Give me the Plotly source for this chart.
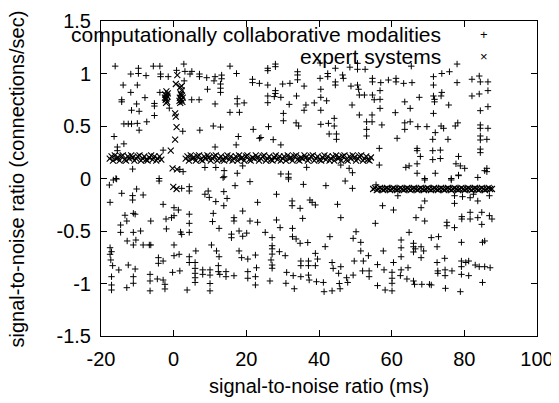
import plotly.graph_objects as go

# tick labels
x_ticks = [-20, 0, 20, 40, 60, 80, 100]
x_tick_text = ["-20", "0", "20", "40", "60", "80", "100"]
y_ticks = [-1.5, -1, -0.5, 0, 0.5, 1, 1.5]
y_tick_text = ["-1.5", "-1", "-0.5", "0", "0.5", "1", "1.5"]

# computationally collaborative modalities (+)
modalities_pts = [
    (-16.1, 1.07), (-9.7, 1.05), (-5.6, 1.07), (-3.8, 1.07), (-11.8, 0.995), (-9.7, 1.0), (-7.6, 0.98),
    (-3.6, 0.995), (-3.6, 0.97), (-1.5, 0.97), (0.8, 1.03), (2.8, 1.09), (3.1, 1.02), (4.5, 0.995),
    (5.0, 1.02), (7.1, 0.995), (7.1, 0.97), (9.1, 0.96), (11.4, 0.97), (11.1, 0.93), (13.2, 0.985),
    (13.2, 0.95), (15.5, 1.07), (17.3, 1.0), (-13.9, 0.89), (-10.0, 0.89), (-11.8, 0.82), (-7.9, 0.77),
    (-14.3, 0.75), (-14.3, 0.73), (-10.2, 0.71), (-5.3, 0.715), (-5.3, 0.69), (-3.8, 0.82), (-11.6, 0.65),
    (-9.5, 0.64), (-5.3, 0.60), (-1.2, 0.67), (4.96, 0.75), (7.0, 0.75), (9.3, 0.85), (12.9, 0.90),
    (12.9, 0.86), (12.9, 0.82), (11.4, 0.71), (17.5, 0.76), (17.5, 0.71), (19.4, 0.72), (15.5, 0.63),
    (18.1, 0.63), (-13.7, 0.52), (-12.5, 0.52), (-11.6, 0.52), (-10.0, 0.525), (-9.5, 0.46), (-7.4, 0.54),
    (2.5, 0.45), (7.2, 0.46), (10.9, 0.50), (12.9, 0.49), (17.8, 0.40), (-16.4, 0.40), (-13.7, 0.33),
    (-15.5, 0.30), (-15.5, 0.265), (11.4, 0.30), (17.2, 0.32), (-2.9, 0.27), (-11.3, 0.09), (8.6, 0.105),
    (11.6, 0.105), (13.9, 0.075), (13.9, 0.017), (17.5, 0.05), (19.0, 0.12), (-15.9, 0.0), (-4.0, 0.0),
    (1.7, 0.087), (2.6, 0.065), (2.9, 0.93),
    (25.9, 1.05), (25.9, 1.027), (28.0, 1.09), (28.0, 1.065), (21.7, 0.945), (21.7, 0.913), (23.6, 0.906),
    (25.9, 0.89), (28.0, 0.837), (28.0, 0.81), (30.0, 0.90), (32.0, 0.906), (34.1, 1.017), (34.1, 0.986),
    (34.1, 0.94), (35.9, 0.88), (25.9, 0.786), (25.9, 0.722), (27.7, 0.78), (29.5, 0.773), (31.8, 0.706),
    (33.8, 0.786), (36.4, 0.70), (35.9, 0.65), (38.7, 0.72), (40.3, 0.954), (42.4, 1.0), (42.4, 0.97),
    (44.5, 1.05), (46.5, 0.986), (46.7, 0.954), (44.5, 0.92), (44.5, 0.89), (40.5, 0.85), (40.5, 0.773),
    (42.1, 0.74), (40.5, 0.65), (48.5, 1.06), (50.6, 1.097), (50.6, 1.04), (52.7, 1.04), (48.8, 0.88),
    (50.6, 0.89), (50.9, 0.85), (51.1, 0.795), (52.5, 0.795), (54.7, 0.954), (54.7, 0.92), (57.0, 0.913),
    (54.7, 0.795), (55.2, 0.75), (56.8, 0.837), (56.8, 0.754), (56.8, 0.668), (59.1, 0.938), (49.1, 0.70),
    (30.2, 0.62), (30.2, 0.55), (33.7, 0.53), (34.4, 0.50), (26.1, 0.494), (21.9, 0.468), (23.6, 0.383),
    (24.0, 0.39), (27.4, 0.37), (29.5, 0.32), (40.5, 0.516), (42.6, 0.525), (44.2, 0.573), (44.2, 0.50),
    (42.8, 0.424), (44.8, 0.424), (44.8, 0.373), (51.1, 0.605), (54.6, 0.605), (53.1, 0.54), (54.6, 0.54),
    (53.1, 0.468), (53.1, 0.405), (57.3, 0.51), (56.6, 0.287), (56.6, 0.128), (46.0, 0.128), (48.3, 0.097),
    (49.2, 0.055), (36.6, 0.106), (29.5, 0.043), (31.6, 0.043), (31.6, 0.011), (40.3, 1.1),
    (65.4, 1.07), (78.0, 1.09), (73.8, 1.0), (75.9, 1.017), (71.5, 0.97), (61.2, 0.954), (61.2, 0.92),
    (63.3, 0.906), (65.6, 0.913), (71.5, 0.89), (78.0, 0.913), (82.1, 0.945), (84.1, 0.976), (84.4, 0.92),
    (86.5, 0.92), (86.5, 0.837), (82.1, 0.786), (84.1, 0.805), (73.8, 0.82), (73.6, 0.786), (71.5, 0.786),
    (71.8, 0.754), (71.8, 0.73), (67.6, 0.773), (63.6, 0.73), (65.1, 0.668), (61.0, 0.627), (71.5, 0.62),
    (75.7, 0.70), (84.4, 0.646), (86.5, 0.684), (63.6, 0.53), (65.1, 0.54), (63.6, 0.468), (67.2, 0.494),
    (69.7, 0.494), (73.6, 0.50), (74.3, 0.478), (77.5, 0.50), (78.2, 0.53), (84.4, 0.51), (84.4, 0.478),
    (86.5, 0.478), (72.0, 0.437), (71.3, 0.373), (75.5, 0.373), (61.5, 0.383), (84.4, 0.405), (84.4, 0.367),
    (86.2, 0.373), (67.0, 0.287), (67.0, 0.265), (67.9, 0.21), (71.3, 0.265), (73.4, 0.27), (71.3, 0.18),
    (73.4, 0.19), (78.4, 0.21), (84.4, 0.28), (84.4, 0.246), (67.0, 0.14), (63.9, 0.106), (64.8, 0.12),
    (77.7, 0.14), (78.9, 0.12), (80.1, 0.097), (86.2, 0.097), (86.2, 0.065), (85.6, 0.075), (67.0, 0.05),
    (72.0, 0.05), (78.4, 0.033), (69.1, 0.0), (76.4, 0.0), (83.7, 0.01),
    (-17.7, -0.062), (-16.6, -0.014), (-15.7, -0.005), (-4.0, -0.024), (13.6, 0.008), (2.2, -0.094),
    (4.3, -0.078), (4.3, -0.119), (-14.3, -0.141), (-11.3, -0.163), (-11.3, -0.205), (-10.2, -0.10),
    (-8.4, -0.157), (-17.5, -0.227), (-2.9, -0.246), (0.1, -0.278), (1.3, -0.30), (8.6, -0.15), (9.5, -0.119),
    (9.8, -0.18), (11.6, -0.22), (13.8, -0.125), (14.7, -0.19), (13.8, -0.259), (16.9, -0.068), (19.0, -0.31),
    (-13.4, -0.35), (-11.1, -0.332), (-10.6, -0.34), (-12.9, -0.405), (-14.6, -0.443), (-6.3, -0.405),
    (-2.1, -0.386), (-0.6, -0.373), (0.1, -0.354), (-2.0, -0.48), (4.3, -0.34), (4.3, -0.427), (10.9, -0.332),
    (10.7, -0.41), (12.5, -0.475), (16.6, -0.373), (16.6, -0.405), (18.0, -0.50), (19.0, -0.55), (15.9, -0.53),
    (15.9, -0.564), (-14.6, -0.513), (-11.1, -0.513), (-9.1, -0.50), (-12.8, -0.595), (-11.1, -0.633),
    (-10.4, -0.586), (-8.4, -0.633), (-6.7, -0.633), (-6.3, -0.633), (2.2, -0.532), (1.9, -0.51), (4.3, -0.513),
    (0.1, -0.633), (-17.5, -0.659), (-17.1, -0.697), (-17.5, -0.722), (-17.3, -0.776), (-16.8, -0.83),
    (6.1, -0.69), (10.4, -0.633), (11.8, -0.69), (12.5, -0.745), (18.0, -0.69), (18.7, -0.754), (-4.2, -0.754),
    (-4.2, -0.808), (-2.9, -0.786), (0.1, -0.735), (1.5, -0.722), (4.3, -0.745), (4.3, -0.80), (-15.1, -0.871),
    (-12.5, -0.824), (-10.6, -0.862), (-17.1, -0.935), (-17.1, -1.014), (-17.1, -1.062), (-11.1, -0.935),
    (-11.1, -0.998), (-12.9, -1.04), (-6.5, -0.913), (-6.5, -0.976), (-6.5, -1.07), (-4.5, -0.957),
    (-2.9, -0.967), (-2.4, -1.008), (-2.4, -1.052), (-0.3, -0.894), (1.7, -0.88), (3.7, -1.062), (5.9, -0.80),
    (5.9, -0.856), (5.9, -0.903), (5.9, -0.945), (5.9, -0.99), (8.0, -0.87), (8.0, -0.913), (10.0, -0.87),
    (10.0, -0.92), (10.0, -1.0), (10.0, -1.07), (12.3, -0.83), (12.3, -0.887), (12.7, -0.913), (14.4, -0.887),
    (14.4, -0.935), (16.6, -0.926),
    (21.0, -0.03), (31.6, -0.005), (35.7, -0.056), (41.9, -0.068), (47.2, -0.024), (49.2, -0.094),
    (55.7, -0.06), (28.3, -0.15), (23.1, -0.227), (32.6, -0.214), (32.6, -0.259), (34.8, -0.284),
    (37.5, -0.205), (38.1, -0.227), (39.0, -0.252), (45.1, -0.246), (57.5, -0.259), (35.5, -0.38),
    (46.0, -0.373), (55.5, -0.427), (21.0, -0.405), (23.1, -0.417), (28.3, -0.395), (29.3, -0.468),
    (32.7, -0.475), (32.7, -0.554), (33.7, -0.576), (34.8, -0.617), (36.9, -0.61), (20.1, -0.52),
    (25.2, -0.513), (27.1, -0.563), (27.1, -0.64), (27.1, -0.67), (27.1, -0.72), (26.8, -0.776),
    (27.1, -0.824), (27.1, -0.855), (29.1, -0.697), (30.7, -0.735), (22.5, -0.729), (20.4, -0.767),
    (22.8, -0.85), (20.4, -0.887), (22.5, -0.935), (22.5, -1.014), (20.4, -0.95), (26.5, -0.976),
    (31.1, -0.894), (32.9, -0.925), (33.2, -1.05), (30.9, -0.998), (35.0, -0.786), (35.0, -0.83),
    (37.1, -0.786), (37.1, -0.83), (39.0, -0.83), (39.0, -0.713), (39.6, -0.767), (41.7, -0.649),
    (43.0, -0.554), (35.0, -0.935), (37.1, -0.92), (37.3, -0.967), (39.3, -0.983), (41.2, -0.99),
    (41.4, -1.078), (43.6, -0.80), (43.9, -0.856), (43.6, -1.07), (45.4, -0.903), (46.0, -0.84),
    (45.6, -1.0), (45.8, -1.05), (47.6, -0.945), (47.9, -0.99), (49.7, -0.786), (49.4, -0.92),
    (49.4, -0.57), (50.2, -0.507), (51.5, -0.608), (51.5, -0.69), (52.2, -0.786), (53.6, -0.735),
    (52.0, -0.88), (53.8, -0.88), (53.8, -0.935), (56.1, -0.82), (57.9, -0.87), (57.7, -0.69),
    (56.1, -1.02), (58.2, -1.062),
    (69.1, -0.014), (76.4, -0.014), (78.4, 0.027), (61.7, -0.164), (69.1, -0.214), (77.3, -0.164),
    (77.3, -0.237), (79.5, -0.173), (81.6, -0.183), (82.5, -0.15), (83.7, -0.214), (86.9, -0.164),
    (68.1, -0.278), (60.5, -0.30), (66.7, -0.373), (69.1, -0.405), (75.2, -0.417), (75.2, -0.45),
    (77.3, -0.468), (79.3, -0.363), (79.3, -0.386), (81.6, -0.322), (81.6, -0.386), (83.7, -0.373),
    (84.8, -0.322), (84.8, -0.437), (86.9, -0.354), (87.6, -0.386), (64.8, -0.513), (70.9, -0.563),
    (72.9, -0.554), (62.6, -0.586), (62.6, -0.66), (62.6, -0.745), (66.0, -0.617), (66.0, -0.65),
    (66.5, -0.67), (66.0, -0.70), (68.1, -0.65), (68.8, -0.69), (72.5, -0.65), (68.1, -0.754),
    (79.2, -0.608), (85.0, -0.608), (85.6, -0.595), (60.5, -0.80), (60.1, -0.893), (62.6, -0.87),
    (64.5, -0.85), (62.4, -0.925), (64.2, -0.957), (66.0, -0.976), (66.3, -1.008), (68.3, -1.008),
    (70.4, -1.008), (70.9, -1.014), (72.5, -0.80), (74.6, -0.76), (72.7, -0.88), (72.7, -0.903),
    (74.7, -0.87), (74.7, -0.925), (76.6, -0.88), (79.2, -0.786), (79.2, -0.84), (79.2, -0.913),
    (80.4, -0.80), (81.2, -0.786), (81.2, -0.925), (83.0, -0.824), (84.1, -0.84), (85.6, -0.84),
    (87.1, -0.85), (74.8, -1.046), (78.9, -1.078), (85.0, -0.99), (60.1, -0.95), (60.1, -0.998),
    (60.1, -1.07),
]

# expert systems (x): the three dense runs and the loose points round x=0
expert_run_a = [
    (-17.6, 0.19), (-17.1, 0.21), (-16.7, 0.17), (-16.2, 0.22), (-15.8, 0.19), (-15.3, 0.2), (-14.9, 0.17),
    (-14.4, 0.21), (-14.0, 0.22), (-13.5, 0.18), (-13.1, 0.17), (-12.6, 0.21), (-12.2, 0.19), (-11.7, 0.22),
    (-11.3, 0.2), (-10.8, 0.17), (-10.3, 0.19), (-9.9, 0.21), (-9.4, 0.22), (-9.0, 0.17), (-8.5, 0.19),
    (-8.1, 0.21), (-7.6, 0.18), (-7.2, 0.17), (-6.7, 0.2), (-6.2, 0.22), (-5.8, 0.18), (-5.3, 0.21),
    (-4.8, 0.17), (-4.4, 0.19), (-3.9, 0.21), (-3.4, 0.18),
]
expert_run_b = [
    (3.3, 0.19), (3.8, 0.21), (4.2, 0.17), (4.7, 0.22), (5.1, 0.19), (5.6, 0.2), (6.1, 0.17), (6.5, 0.21),
    (7.0, 0.22), (7.4, 0.18), (7.9, 0.17), (8.4, 0.21), (8.8, 0.19), (9.3, 0.22), (9.7, 0.2), (10.2, 0.17),
    (10.7, 0.19), (11.1, 0.21), (11.6, 0.22), (12.0, 0.17), (12.5, 0.19), (13.0, 0.21), (13.4, 0.18),
    (13.9, 0.17), (14.3, 0.2), (14.8, 0.22), (15.3, 0.18), (15.7, 0.21), (16.2, 0.17), (16.6, 0.19),
    (17.1, 0.21), (17.6, 0.17), (18.0, 0.22), (18.5, 0.19), (18.9, 0.2), (19.4, 0.17), (19.9, 0.21),
    (20.3, 0.22), (20.8, 0.18), (21.2, 0.17), (21.7, 0.2), (22.2, 0.19), (22.6, 0.22), (23.1, 0.2),
    (23.5, 0.17), (24.0, 0.19), (24.5, 0.21), (24.9, 0.22), (25.4, 0.17), (25.8, 0.19), (26.3, 0.21),
    (26.8, 0.18), (27.2, 0.17), (27.7, 0.2), (28.1, 0.22), (28.6, 0.18), (29.1, 0.21), (29.5, 0.17),
    (30.0, 0.19), (30.4, 0.21), (30.9, 0.17), (31.4, 0.22), (31.8, 0.19), (32.3, 0.2), (32.7, 0.17),
    (33.2, 0.21), (33.7, 0.22), (34.1, 0.18), (34.6, 0.17), (35.0, 0.2), (35.5, 0.19), (36.0, 0.22),
    (36.4, 0.2), (36.9, 0.17), (37.3, 0.19), (37.8, 0.21), (38.3, 0.22), (38.7, 0.17), (39.2, 0.19),
    (39.6, 0.21), (40.1, 0.18), (40.6, 0.17), (41.0, 0.2), (41.5, 0.22), (41.9, 0.18), (42.4, 0.21),
    (42.9, 0.17), (43.3, 0.19), (43.8, 0.21), (44.2, 0.17), (44.7, 0.22), (45.2, 0.19), (45.6, 0.2),
    (46.1, 0.17), (46.5, 0.21), (47.0, 0.22), (47.5, 0.18), (47.9, 0.17), (48.4, 0.21), (48.8, 0.19),
    (49.3, 0.22), (49.8, 0.2), (50.2, 0.17), (50.7, 0.19), (51.1, 0.21), (51.6, 0.22), (52.1, 0.17),
    (52.5, 0.19), (53.0, 0.21), (53.4, 0.18), (53.9, 0.17), (54.3, 0.2),
]
expert_run_c = [
    (54.9, -0.1), (55.4, -0.09), (55.9, -0.11), (56.3, -0.1), (56.8, -0.09), (57.3, -0.1), (57.7, -0.11),
    (58.2, -0.1), (58.7, -0.09), (59.1, -0.1), (59.6, -0.11), (60.1, -0.1), (60.5, -0.09), (61.0, -0.1),
    (61.5, -0.11), (61.9, -0.1), (62.4, -0.09), (62.9, -0.1), (63.3, -0.11), (63.8, -0.1), (64.3, -0.09),
    (64.7, -0.1), (65.2, -0.11), (65.7, -0.1), (66.1, -0.09), (66.6, -0.1), (67.1, -0.11), (67.5, -0.1),
    (68.0, -0.09), (68.5, -0.1), (68.9, -0.11), (69.4, -0.1), (69.9, -0.09), (70.3, -0.1), (70.8, -0.11),
    (71.3, -0.1), (71.7, -0.09), (72.2, -0.1), (72.7, -0.11), (73.1, -0.1), (73.6, -0.09), (74.1, -0.1),
    (74.5, -0.11), (75.0, -0.1), (75.5, -0.09), (75.9, -0.1), (76.4, -0.11), (76.9, -0.1), (77.3, -0.09),
    (77.8, -0.1), (78.3, -0.11), (78.7, -0.1), (79.2, -0.09), (79.7, -0.1), (80.1, -0.11), (80.6, -0.1),
    (81.1, -0.09), (81.5, -0.1), (82.0, -0.11), (82.5, -0.1), (82.9, -0.09), (83.4, -0.1), (83.9, -0.11),
    (84.3, -0.1), (84.8, -0.09), (85.3, -0.1), (85.7, -0.11), (86.2, -0.1), (86.7, -0.09), (87.1, -0.1),
    (87.6, -0.1),
]
expert_loose = [
    (-2.3, 0.80), (-2.0, 0.83), (-1.7, 0.78), (-2.2, 0.75), (-1.8, 0.73), (-2.4, 0.77), (-1.6, 0.81),
    (-2.0, 0.76), (-1.9, 0.79), (-2.1, 0.72),
    (1.8, 0.87), (2.2, 0.84), (1.9, 0.81), (2.3, 0.79), (1.7, 0.77), (2.1, 0.75), (2.4, 0.73), (1.8, 0.72),
    (2.2, 0.88), (2.0, 0.80), (2.5, 0.77), (1.6, 0.74),
    (1.0, 0.985), (0.6, 0.90), (0.4, 0.62), (0.6, 0.59), (0.8, 0.49), (0.4, 0.37), (-0.8, 0.265),
    (-0.3, 0.097), (0.9, 0.087), (-0.1, -0.08), (0.8, -0.10),
]

mod_x = [p[0] for p in modalities_pts]
mod_y = [p[1] for p in modalities_pts]
expert_all = expert_run_a + expert_run_b + expert_run_c + expert_loose
exp_x = [p[0] for p in expert_all]
exp_y = [p[1] for p in expert_all]

FONT = "Liberation Sans, Arial, sans-serif"

fig = go.Figure()
fig.add_trace(go.Scatter(x=mod_x, y=mod_y, mode="markers",
                         name="computationally collaborative modalities",
                         marker=dict(symbol="cross-thin", size=4.6, color="black",
                                     line=dict(width=1, color="black"))))
fig.add_trace(go.Scatter(x=exp_x, y=exp_y, mode="markers", name="expert systems",
                         marker=dict(symbol="x-thin", size=6, color="black",
                                     line=dict(width=1.1, color="black"))))

axis_common = dict(showline=True, linecolor="black", linewidth=1, mirror="ticks",
                   ticks="inside", ticklen=6, tickcolor="black", tickwidth=1,
                   showgrid=False, zeroline=False, automargin=False,
                   tickfont=dict(family=FONT, size=20, color="black"))
fig.update_xaxes(range=[-20, 100], tickvals=x_ticks, ticktext=x_tick_text,
                 ticklabelstandoff=5, **axis_common)
fig.update_yaxes(range=[-1.5, 1.5], tickvals=y_ticks, ticktext=y_tick_text,
                 ticklabelstandoff=5, **axis_common)

# gnuplot style key: text right aligned, sample to its right
key = [("computationally collaborative modalities", "+", 0.956),
       ("expert systems", "×", 0.886)]
notes = []
for label, sym, ky in key:
    notes.append(dict(text=label, x=0.784, y=ky, xref="paper", yref="paper",
                      xanchor="right", yanchor="middle", showarrow=False,
                      font=dict(family=FONT, size=21, color="black")))
    notes.append(dict(text=sym, x=0.878, y=ky, xref="paper", yref="paper",
                      xanchor="center", yanchor="middle", showarrow=False,
                      font=dict(family=FONT, size=13, color="black")))
notes.append(dict(text="signal-to-noise ratio (ms)", x=0.5, y=-0.159, xref="paper", yref="paper",
                  xanchor="center", yanchor="middle", showarrow=False,
                  font=dict(family=FONT, size=20, color="black")))
notes.append(dict(text="signal-to-noise ratio (connections/sec)", x=-0.1927, y=0.5,
                  xref="paper", yref="paper", textangle=-90,
                  xanchor="center", yanchor="middle", showarrow=False,
                  font=dict(family=FONT, size=20, color="black")))

# page body has an 8px margin, so the figure is 8px smaller and the margins shifted
fig.update_layout(width=551, height=395, margin=dict(l=93, r=22, t=13, b=67),
                  plot_bgcolor="white", paper_bgcolor="white",
                  showlegend=False, annotations=notes)

fig.write_html("out.html")
